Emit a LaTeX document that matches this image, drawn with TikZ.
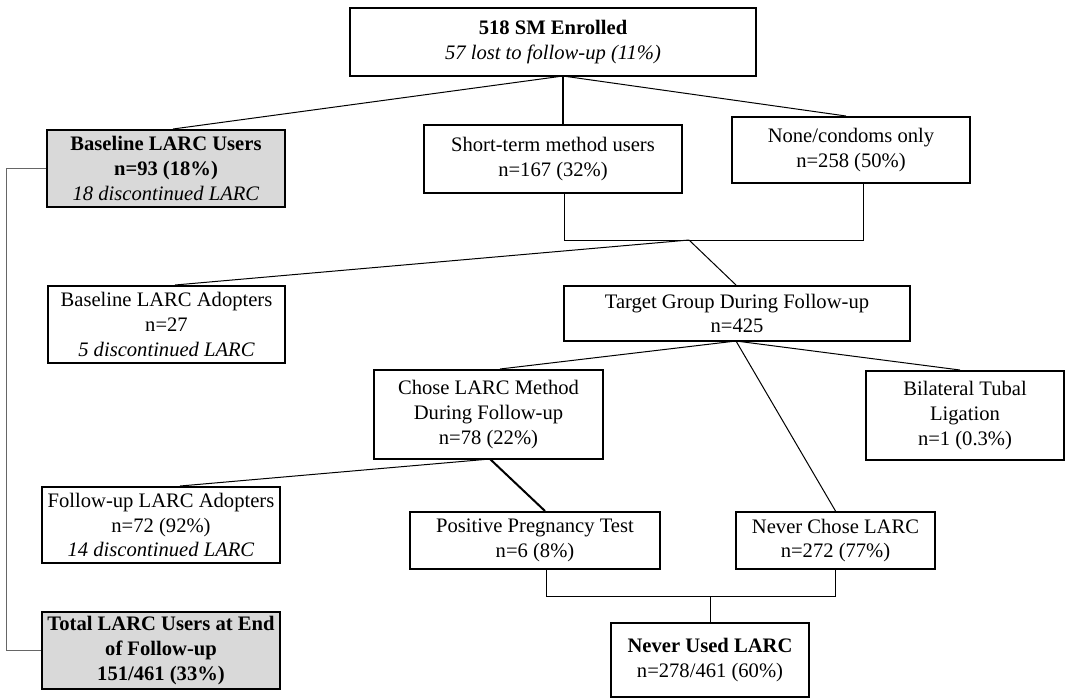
\documentclass[tikz,border=0pt]{standalone}
\usepackage{fontspec}
\setmainfont{Liberation Serif}
\tikzset{
  box/.style={draw, line width=1pt, align=center, inner sep=0pt,
    font=\fontsize{10.3}{12.3}\selectfont},
  gbox/.style={box, fill=gray!30},
  sz/.style 2 args={minimum width=#1*0.5pt, minimum height=#2*0.5pt},
  link/.style={line width=0.5pt},
  biglink/.style={line width=1pt},
  side/.style={line width=0.5pt, gray!80!black}
}
\begin{document}
\begin{tikzpicture}[x=0.5pt, y=-0.5pt]
  \useasboundingbox (0,0) rectangle (1086,698);

  % Enrolment and baseline groups
  \node[box, sz={406}{68}] (enrol) at (553,42) {\textbf{518 SM Enrolled}\\\textit{57 lost to follow-up (11\%)}};
  \node[gbox, sz={238}{77}] (bluser) at (166,168.5) {\textbf{Baseline LARC Users}\\\textbf{n=93 (18\%)}\\\textit{18 discontinued LARC}};
  \node[box, sz={258}{68}] (short) at (553,159) {Short-term method users\\n=167 (32\%)};
  \node[box, sz={238}{66}] (none) at (851,150) {None/condoms only\\n=258 (50\%)};

  % Target group
  \node[box, sz={237}{77}] (badopt) at (166.5,324.5) {Baseline LARC Adopters\\n=27\\\textit{5 discontinued LARC}};
  \node[box, sz={346}{55}] (target) at (737,313.5) {Target Group During Follow-up\\n=425};
  \node[box, sz={229}{89}] (chose) at (488.5,414.5) {Chose LARC Method\\During Follow-up\\n=78 (22\%)};
  \node[box, sz={198}{89}] (btl) at (965,415.5) {Bilateral Tubal\\Ligation\\n=1 (0.3\%)};

  % Outcomes
  \node[box, sz={238}{76}] (fadopt) at (161,525) {Follow-up LARC Adopters\\n=72 (92\%)\\\textit{14 discontinued LARC}};
  \node[box, sz={250}{57}] (preg) at (535,540.5) {Positive Pregnancy Test\\n=6 (8\%)};
  \node[box, sz={199}{57}] (never) at (835.5,540.5) {Never Chose LARC\\n=272 (77\%)};
  \node[gbox, sz={238}{77}] (total) at (161,650.5) {\textbf{Total LARC Users at End}\\\textbf{of Follow-up}\\\textbf{151/461 (33\%)}};
  \node[box, sz={198}{74}] (notused) at (710,660) {\textbf{Never Used LARC}\\n=278/461 (60\%)};

  % Helper points
  \coordinate (split) at (563,76);
  \coordinate (merge) at (689,240);
  \coordinate (cbot) at (490,459);
  \coordinate (tbot) at (736,341);
  \coordinate (join) at (710,596);

  % Connectors from enrolment
  \draw[link] (split) -- (bluser.north -| 173,0);
  \draw[biglink] (split) -- (short.north -| split);
  \draw[link] (split) -- (none.north -| 846,0);

  % Short-term and none merge
  \draw[link] (short.south -| 564,0) |- (merge) -| (none.south -| 863,0);
  \draw[link] (merge) -- (badopt.north -| 175,0);
  \draw[link] (merge) -- (target.north -| tbot);

  % From target group
  \draw[link] (tbot) -- (chose.north -| 500,0);
  \draw[link] (tbot) -- (btl.north -| 960,0);
  \draw[link] (tbot) -- (never.north);

  % From chose LARC
  \draw[link] (cbot) -- (fadopt.north -| 180,0);
  \draw[biglink] (cbot) -- (preg.north -| 545,0);

  % Never used bracket
  \draw[link] (preg.south -| 546,0) |- (join) -| (never.south);
  \draw[link] (join) -- (notused.north);

  % Baseline users to total
  \draw[side] (bluser.west) -- ++(-40,0) |- (total.west);
\end{tikzpicture}
\end{document}
